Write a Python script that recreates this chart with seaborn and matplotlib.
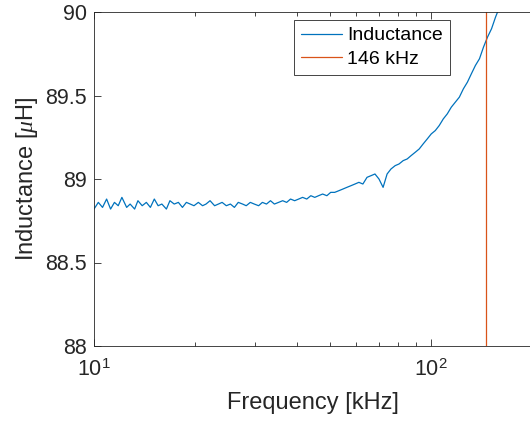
import numpy as np
import pandas as pd
import matplotlib
matplotlib.use("Agg")
import matplotlib.pyplot as plt
from matplotlib.ticker import LogLocator, FixedLocator, NullFormatter
import seaborn as sns

freq_khz = [10.0, 10.3, 10.6, 10.9, 11.2, 11.5, 11.8, 12.1, 12.5, 12.8, 13.2, 13.5,
            13.9, 14.3, 14.7, 15.1, 15.5, 15.9, 16.4, 16.8, 17.3, 17.8, 18.3, 18.8,
            19.3, 19.8, 20.4, 21.0, 21.5, 22.1, 22.8, 23.4, 24.0, 24.7, 25.4, 26.1,
            26.8, 27.6, 28.3, 29.1, 29.9, 30.8, 31.6, 32.5, 33.4, 34.3, 35.3, 36.3,
            37.3, 38.3, 39.4, 40.5, 41.6, 42.8, 44.0, 45.2, 46.4, 47.7, 49.1, 50.4,
            51.8, 53.3, 54.8, 56.3, 57.9, 59.5, 61.1, 62.8, 64.6, 66.4, 68.2, 70.1,
            72.1, 74.1, 76.1, 78.3, 80.4, 82.7, 85.0, 87.3, 89.8, 92.3, 94.8, 97.5,
            100.2, 103.0, 105.8, 108.8, 111.8, 114.9, 118.1, 121.4, 124.8, 128.3,
            131.8, 135.5, 139.3, 143.2, 147.2, 151.3, 155.5, 159.8]
inductance_uh = [88.82, 88.86, 88.83, 88.88, 88.82, 88.86, 88.84, 88.89, 88.83, 88.85, 88.82, 88.87,
                 88.84, 88.86, 88.83, 88.88, 88.84, 88.85, 88.82, 88.87, 88.85, 88.86, 88.83, 88.86,
                 88.85, 88.84, 88.86, 88.84, 88.85, 88.87, 88.84, 88.85, 88.86, 88.84, 88.85, 88.83,
                 88.86, 88.85, 88.84, 88.86, 88.85, 88.84, 88.86, 88.85, 88.87, 88.85, 88.86, 88.87,
                 88.86, 88.88, 88.87, 88.88, 88.89, 88.88, 88.90, 88.89, 88.90, 88.91, 88.90, 88.92,
                 88.92, 88.93, 88.94, 88.95, 88.96, 88.97, 88.98, 88.97, 89.01, 89.02, 89.03, 89.00,
                 88.95, 89.03, 89.06, 89.08, 89.09, 89.11, 89.12, 89.14, 89.16, 89.18, 89.21, 89.24,
                 89.27, 89.29, 89.32, 89.36, 89.39, 89.43, 89.46, 89.49, 89.54, 89.58,
                 89.63, 89.68, 89.72, 89.79, 89.85, 89.90, 89.97, 90.03]
marker_khz = 146
y_ticks = [88, 88.5, 89, 89.5, 90]
y_labels = ["88", "88.5", "89", "89.5", "90"]

df = pd.DataFrame({"freq": freq_khz, "L": inductance_uh})

sns.set_style("ticks")
plt.rcParams["font.family"] = ["Liberation Sans", "DejaVu Sans"]
plt.rcParams["mathtext.fontset"] = "custom"
plt.rcParams["mathtext.rm"] = "Liberation Sans"
plt.rcParams["mathtext.it"] = "Liberation Serif:italic"

dark = "#262626"
fig = plt.figure(figsize=(5.30, 4.21), dpi=100)
# right spine sits just past the image edge, as in the reference
ax = fig.add_axes([94 / 530, 75 / 421, 438.4 / 530, 334 / 421])

sns.lineplot(data=df, x="freq", y="L", ax=ax, color="#0072BD", lw=0.9,
             estimator=None, sort=True, label="Inductance")
ax.axvline(marker_khz, color="#D95319", lw=0.9, label=f"{marker_khz} kHz")

ax.set_xscale("log")
ax.set_xlim(10, 200)
ax.set_ylim(88, 90)
ax.xaxis.set_major_locator(FixedLocator([10, 100]))
ax.set_xticklabels([r"$10^1$", r"$10^2$"])
ax.xaxis.set_minor_locator(LogLocator(base=10, subs=np.arange(2, 10)))
ax.xaxis.set_minor_formatter(NullFormatter())
ax.set_yticks(y_ticks)
ax.set_yticklabels(y_labels)

ax.tick_params(which="both", direction="in", top=True, right=False, colors=dark,
               labelsize=15.5, width=0.6)
ax.tick_params(which="major", length=5)
ax.tick_params(which="minor", length=3)
ax.tick_params(axis="x", pad=10)
ax.tick_params(axis="y", pad=5)
for s in ax.spines.values():
    s.set_color(dark)
    s.set_linewidth(0.6)

ax.set_xlabel("Frequency [kHz]", fontsize=17, color=dark, labelpad=8)
ax.set_ylabel(r"Inductance [$\mu$H]", fontsize=17, color=dark, labelpad=4)

leg = ax.legend(loc="upper right", bbox_to_anchor=(0.812, 0.976), borderaxespad=0,
                fontsize=14, frameon=True, fancybox=False, edgecolor=dark, framealpha=1,
                handlelength=2.1, borderpad=0.35, labelspacing=0.3, handletextpad=0.3)
leg.get_frame().set_linewidth(0.6)
for t in leg.get_texts():
    t.set_color("black")

fig.savefig("out.png", dpi=100)
